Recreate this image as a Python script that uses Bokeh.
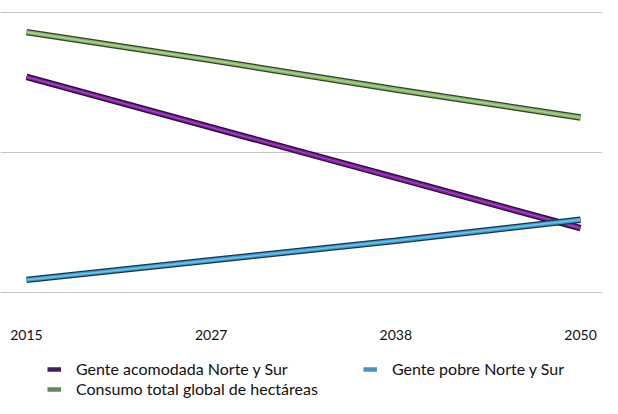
from bokeh.plotting import figure
from bokeh.layouts import column
from bokeh.models import FixedTicker, Legend, LegendItem, ColumnDataSource, Range1d
from bokeh.embed import file_html
from bokeh.resources import INLINE

# ---- data (relative to the gridlines 0/1/2) ----
years = ["2015", "2027", "2038", "2050"]
acomodada = [1.54, 1.18, 0.82, 0.46]   # Gente acomodada Norte y Sur
pobre = [0.09, 0.23, 0.37, 0.52]       # Gente pobre Norte y Sur
consumo = [1.86, 1.66, 1.45, 1.25]     # Consumo total global de hectáreas
grid_values = [0, 1, 2]

names = ["Gente acomodada Norte y Sur", "Gente pobre Norte y Sur",
         "Consumo total global de hectáreas"]
series = [acomodada, pobre, consumo]
styles = [
    dict(dark="#2a0838", body="#7a1f98", hi="#a34bc4", key="#4a1a5e"),
    dict(dark="#1b3444", body="#3f9fd2", hi="#74c7ee", key="#4a93be"),
    dict(dark="#2e4624", body="#89b56c", hi="#aed494", key="#628a52"),
]

x = list(range(len(years)))

p = figure(width=602, height=342, output_backend="svg", toolbar_location=None,
           x_range=(-0.1408, 3.119), y_range=(-0.043, 2.086),
           min_border_left=0, min_border_right=0, min_border_top=0,
           min_border_bottom=44)
p.outline_line_color = None
p.background_fill_color = "white"
p.border_fill_color = "white"

p.yaxis.visible = False
p.xgrid.grid_line_color = None
p.ygrid.ticker = FixedTicker(ticks=grid_values)
p.ygrid.grid_line_color = "#c6c6c6"
p.ygrid.grid_line_width = 1

ax = p.xaxis[0]
ax.ticker = FixedTicker(ticks=x)
ax.major_label_overrides = {i: y for i, y in zip(x, years)}
ax.axis_line_color = None
ax.major_tick_line_color = None
ax.minor_tick_line_color = None
ax.major_label_standoff = 25
ax.major_label_text_font = "Lato"
ax.major_label_text_font_size = "14px"
ax.major_label_text_color = "#111111"

for vals, st in zip(series, styles):
    src = ColumnDataSource(dict(x=x, y=vals))
    p.line("x", "y", source=src, line_color=st["dark"], line_width=6.5, line_cap="butt")
    p.line("x", "y", source=src, line_color=st["body"], line_width=4, line_cap="butt")
    p.line("x", "y", source=src, line_color=st["hi"], line_width=1.2, line_cap="butt")

# ---- legend strip under the chart (its own lines lie outside its view) ----
lf = figure(width=602, height=56, output_backend="svg", toolbar_location=None,
            x_range=Range1d(100, 101), y_range=Range1d(100, 101),
            min_border_left=0, min_border_right=0, min_border_top=0,
            min_border_bottom=0)
lf.axis.visible = False
lf.grid.grid_line_color = None
lf.outline_line_color = None

key_renderers = {}
for name, vals, st in zip(names, series, styles):
    key_renderers[name] = lf.line(x=x, y=vals, line_color=st["key"],
                                  line_width=4.5, line_cap="butt")

# column-major filling: first column holds items 1 and 3, second column item 2
order = [names[0], names[2], names[1]]
items = [LegendItem(label=n, renderers=[key_renderers[n]]) for n in order]

legend = Legend(items=items, ncols=2, location=(47, 0),
                glyph_width=14, glyph_height=18, label_height=18,
                label_standoff=15, label_width=286, spacing=1,
                padding=0, margin=0,
                label_text_font="Lato", label_text_font_size="16px",
                label_text_color="#111111",
                background_fill_alpha=0, border_line_color=None)
lf.add_layout(legend, "center")

layout = column(p, lf, spacing=0)
open("out.html", "w").write(file_html(layout, INLINE))
